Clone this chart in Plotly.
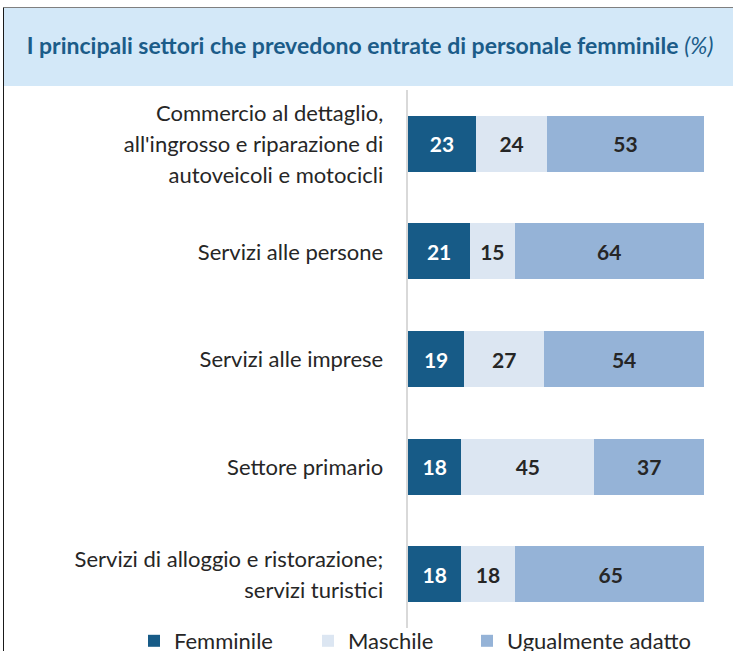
import plotly.graph_objects as go

categories = [
    "Commercio al dettaglio,\nall'ingrosso e riparazione di\nautoveicoli e motocicli",
    "Servizi alle persone",
    "Servizi alle imprese",
    "Settore primario",
    "Servizi di alloggio e ristorazione;\nservizi turistici",
]
femminile = [23, 21, 19, 18, 18]
maschile = [24, 15, 27, 45, 18]
ugualmente = [53, 64, 54, 37, 65]
series_names = ["Femminile", "Maschile", "Ugualmente adatto"]
title_text = "I principali settori che prevedono entrate di personale femminile"

FONT = "Lato"
C_F = "#175b87"
C_M = "#dce6f2"
C_U = "#95b3d7"
TXT = "#262626"

W, H = 733, 651
ML, MR, MT, MB = 408, 29, 90, 23
PW, PH = W - ML - MR, H - MT - MB


def px2paper_x(px):
    return (px - ML) / PW


def px2paper_y(py):
    return (H - MB - py) / PH


def tick_label(s):
    return "<br>".join('<span style="font-size:22px">%s</span>' % line for line in s.split("\n"))


ticktext = [tick_label(c) for c in categories]

legend_ids = ["legend", "legend2", "legend3"]
legend_px = [134, 308, 467]

fig = go.Figure()
for name, vals, col, tcol, lid in [
    (series_names[0], femminile, C_F, "white", legend_ids[0]),
    (series_names[1], maschile, C_M, TXT, legend_ids[1]),
    (series_names[2], ugualmente, C_U, TXT, legend_ids[2]),
]:
    fig.add_trace(go.Bar(
        y=categories, x=vals, name=name, orientation="h",
        marker=dict(color=col, line=dict(width=0)),
        width=0.52,
        text=vals, textposition="inside", insidetextanchor="middle",
        textfont=dict(family=FONT, size=21, color=tcol, weight="bold"),
        constraintext="none",
        hoverinfo="skip",
        legend=lid,
    ))

legend_common = dict(
    orientation="h",
    xref="paper", yref="paper",
    xanchor="left",
    y=px2paper_y(641), yanchor="middle",
    font=dict(family=FONT, size=22, color=TXT),
    bgcolor="rgba(0,0,0,0)",
)

fig.update_layout(
    width=W, height=H,
    barmode="stack",
    margin=dict(l=ML, r=MR, t=MT, b=MB, autoexpand=False),
    paper_bgcolor="white", plot_bgcolor="white",
    font=dict(family=FONT, color=TXT),
    title=dict(
        text="<b>%s</b> <i>(%%)</i>" % title_text,
        font=dict(family=FONT, size=23, color="#1b5c89"),
        xref="container", yref="container",
        x=370 / W, xanchor="center", y=1 - 46 / H, yanchor="middle",
    ),
    xaxis=dict(range=[0, 100], visible=False, fixedrange=True),
    yaxis=dict(
        autorange="reversed", automargin=False,
        tickmode="array", tickvals=categories, ticktext=ticktext,
        tickfont=dict(family=FONT, size=24, color=TXT),
        ticklabelstandoff=18,
        showline=True, linecolor="#d9d9d9", linewidth=2,
        showgrid=False, zeroline=False, ticks="",
    ),
    showlegend=True,
    legend=dict(x=px2paper_x(legend_px[0]), **legend_common),
    legend2=dict(x=px2paper_x(legend_px[1]), **legend_common),
    legend3=dict(x=px2paper_x(legend_px[2]), **legend_common),
    shapes=[
        dict(type="rect", xref="paper", yref="paper",
             x0=px2paper_x(3.5), x1=px2paper_x(W + 5),
             y0=px2paper_y(86), y1=px2paper_y(7.5),
             fillcolor="#d3e8f8", line=dict(width=0), layer="below"),
        dict(type="line", xref="paper", yref="paper",
             x0=px2paper_x(3.5), x1=px2paper_x(W + 5),
             y0=px2paper_y(7.5), y1=px2paper_y(7.5),
             line=dict(color="#7f7f7f", width=1)),
        dict(type="line", xref="paper", yref="paper",
             x0=px2paper_x(3.5), x1=px2paper_x(3.5),
             y0=px2paper_y(7.5), y1=px2paper_y(H + 5),
             line=dict(color="#1a1a1a", width=1)),
    ],
)

fig.write_html("out.html", config={"displayModeBar": False},
               post_script="document.body.style.margin='0px';")
